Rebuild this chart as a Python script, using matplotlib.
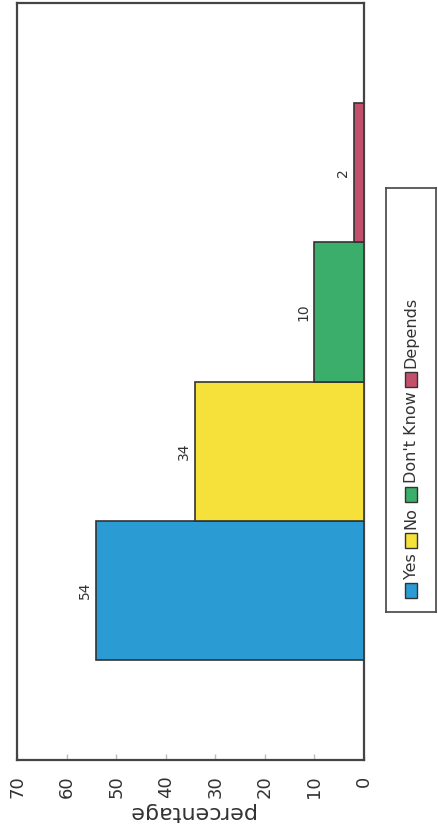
import matplotlib
matplotlib.use("Agg")
import matplotlib.pyplot as plt
from matplotlib.patches import Rectangle

# Survey answers and their share of respondents (%)
categories = ["Yes", "No", "Don't Know", "Depends"]
values = [54, 34, 10, 2]
colors = ["#2b9bd4", "#f6e13a", "#3bae6c", "#c2506c"]
tick_values = [0, 10, 20, 30, 40, 50, 60, 70]
tick_labels = ["0", "10", "20", "30", "40", "50", "60", "70"]
value_label = "percentage"

plt.rcParams["font.family"] = ["DejaVu Sans"]

W, H = 438, 840
fig = plt.figure(figsize=(W / 100, H / 100), dpi=100)
fig.patch.set_facecolor("white")


def px_axes(x0, y0, x1, y1):
    """Add axes given by pixel box (top-left origin)."""
    return fig.add_axes([x0 / W, 1 - y1 / H, (x1 - x0) / W, (y1 - y0) / H])


ax = px_axes(17, 3, 364, 760)
pos = list(range(len(categories)))
bars = ax.barh(pos, values, height=1.0, color=colors,
               edgecolor="#333333", linewidth=1.2, zorder=3)

ax.set_xlim(70, 0)
ax.set_ylim(-0.5 - 0.72, len(categories) - 0.5 + 0.72)
ax.set_yticks([])
ax.set_xticks(tick_values)
ax.set_xticklabels(tick_labels, rotation=90, fontsize=13, color="#333333")
ax.tick_params(axis="x", direction="in", length=4, width=1,
               color="#bbbbbb", pad=11)
ax.set_xlabel(value_label, rotation=180, fontsize=16, color="#333333",
              labelpad=3)
for s in ax.spines.values():
    s.set_color("#444444")
    s.set_linewidth(1.6)

for b, v in zip(bars, values):
    ax.annotate(str(v), xy=(v, b.get_y() + b.get_height() / 2),
                xytext=(-3, 0), textcoords="offset points",
                ha="right", va="center", rotation=90,
                fontsize=10, color="#333333")

# Legend box, stacked vertically with upward-reading labels
lx0, ly0, lx1, ly1 = 386, 188, 436, 612
lax = px_axes(lx0, ly0, lx1, ly1)
lax.set_xlim(0, lx1 - lx0)
lax.set_ylim(0, ly1 - ly0)
lax.set_xticks([])
lax.set_yticks([])
for s in lax.spines.values():
    s.set_color("#444444")
    s.set_linewidth(1.2)

renderer = fig.canvas.get_renderer()
cx = 25
y = 14
patch_w, patch_h = 12, 15
for name, col in zip(categories, colors):
    lax.add_patch(Rectangle((cx - patch_w / 2, y), patch_w, patch_h,
                            facecolor=col, edgecolor="#333333", linewidth=1))
    y += patch_h + 4
    t = lax.text(cx, y, name, rotation=90, ha="center", va="bottom",
                 fontsize=11.5, color="#333333")
    ext = t.get_window_extent(renderer)
    y += ext.height + 5

fig.savefig("out.png", dpi=100, facecolor="white")
